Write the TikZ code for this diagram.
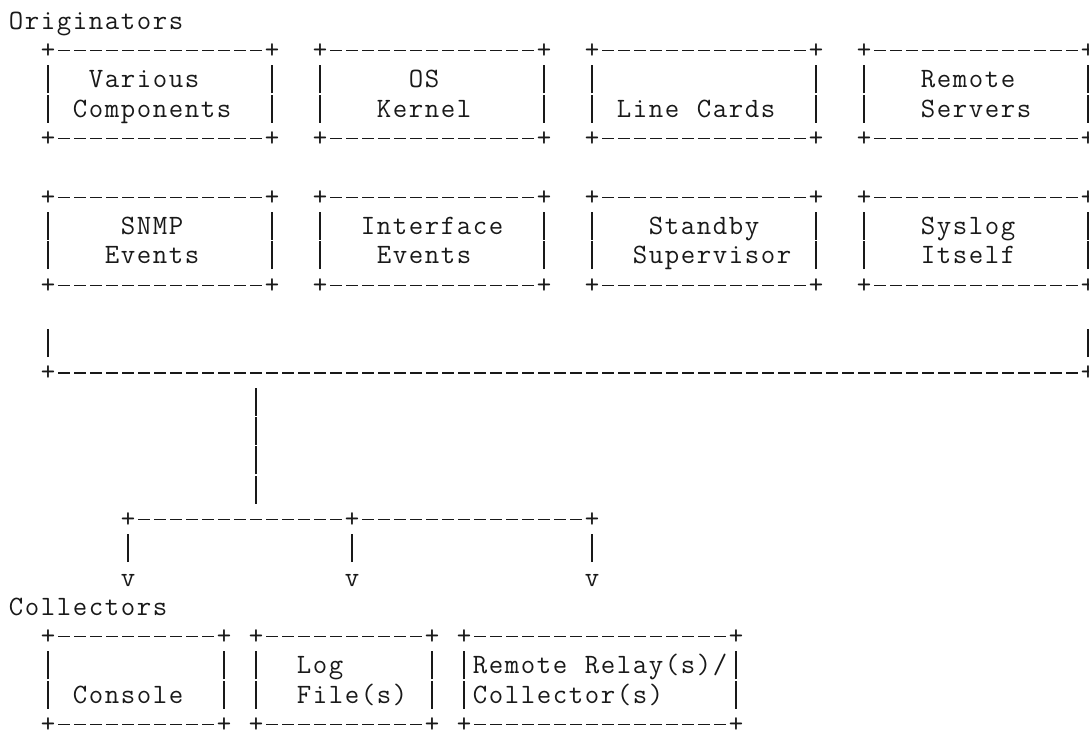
\documentclass[tikz,border=0pt]{standalone}
\makeatletter
% set a string on a 16pt character grid; ~ is a blank cell
\def\gl#1{\gl@#1\@nil}
\def\gl@#1{\ifx#1\@nil\else\gl@@#1\expandafter\gl@\fi}
\def\gl@@#1{\hbox to 16pt{\hss\ifx#1~\else\ifx#1-\rule[7.2pt]{11.5pt}{1.3pt}\else\ifx#1|\rule[-5.5pt]{1.3pt}{28pt}\else#1\fi\fi\fi\hss}}
\makeatother
\tikzset{ascii/.style={anchor=base west, inner sep=0pt, outer sep=0pt,
  font=\ttfamily\fontsize{28pt}{29.3pt}\selectfont, text=black!90}}
\newcommand\gline[4]{\node[ascii] (#1) at ({(8+16*#3)*1pt},{-29.3*(#2+1)*1pt}) {\gl{#4}};}
\begin{document}
\begin{tikzpicture}
\useasboundingbox (0,0) rectangle (1089pt,-730pt);
\fill[white] (0,0) rectangle (1089pt,-730pt);
% Originators
\gline{l0}{0}{0}{Originators}
\gline{l1}{1}{2}{+-------------+~~+-------------+~~+-------------+~~+-------------+}
\gline{l2}{2}{2}{|~~Various~~~~|~~|~~~~~OS~~~~~~|~~|~~~~~~~~~~~~~|~~|~~~Remote~~~~|}
\gline{l3}{3}{2}{|~Components~~|~~|~~~Kernel~~~~|~~|~Line~Cards~~|~~|~~~Servers~~~|}
\gline{l4}{4}{2}{+-------------+~~+-------------+~~+-------------+~~+-------------+}
\gline{l6}{6}{2}{+-------------+~~+-------------+~~+-------------+~~+-------------+}
\gline{l7}{7}{2}{|~~~~SNMP~~~~~|~~|~~Interface~~|~~|~~~Standby~~~|~~|~~~Syslog~~~~|}
\gline{l8}{8}{2}{|~~~Events~~~~|~~|~~~Events~~~~|~~|~~Supervisor~|~~|~~~Itself~~~~|}
\gline{l9}{9}{2}{+-------------+~~+-------------+~~+-------------+~~+-------------+}
% bus
\gline{l11a}{11}{2}{|}
\gline{l11b}{11}{67}{|}
\gline{l12a}{12}{2}{+}
\gline{l12b}{12}{3}{----------------------------------------------------------------}
\gline{l12c}{12}{67}{+}
% trunk
\gline{l13}{13}{15}{|}
\gline{l14}{14}{15}{|}
\gline{l15}{15}{15}{|}
\gline{l16}{16}{15}{|}
\gline{l17}{17}{7}{+-------------+--------------+}
\gline{l18a}{18}{7}{|}
\gline{l18b}{18}{21}{|}
\gline{l18c}{18}{36}{|}
\gline{l19a}{19}{7}{v}
\gline{l19b}{19}{21}{v}
\gline{l19c}{19}{36}{v}
% Collectors
\gline{l20}{20}{0}{Collectors}
\gline{l21}{21}{2}{+----------+~+----------+~+----------------+}
\gline{l22}{22}{2}{|~~~~~~~~~~|~|~~Log~~~~~|~|Remote~Relay(s)/|}
\gline{l23}{23}{2}{|~Console~~|~|~~File(s)~|~|Collector(s)~~~~|}
\gline{l24}{24}{2}{+----------+~+----------+~+----------------+}
\end{tikzpicture}
\end{document}
